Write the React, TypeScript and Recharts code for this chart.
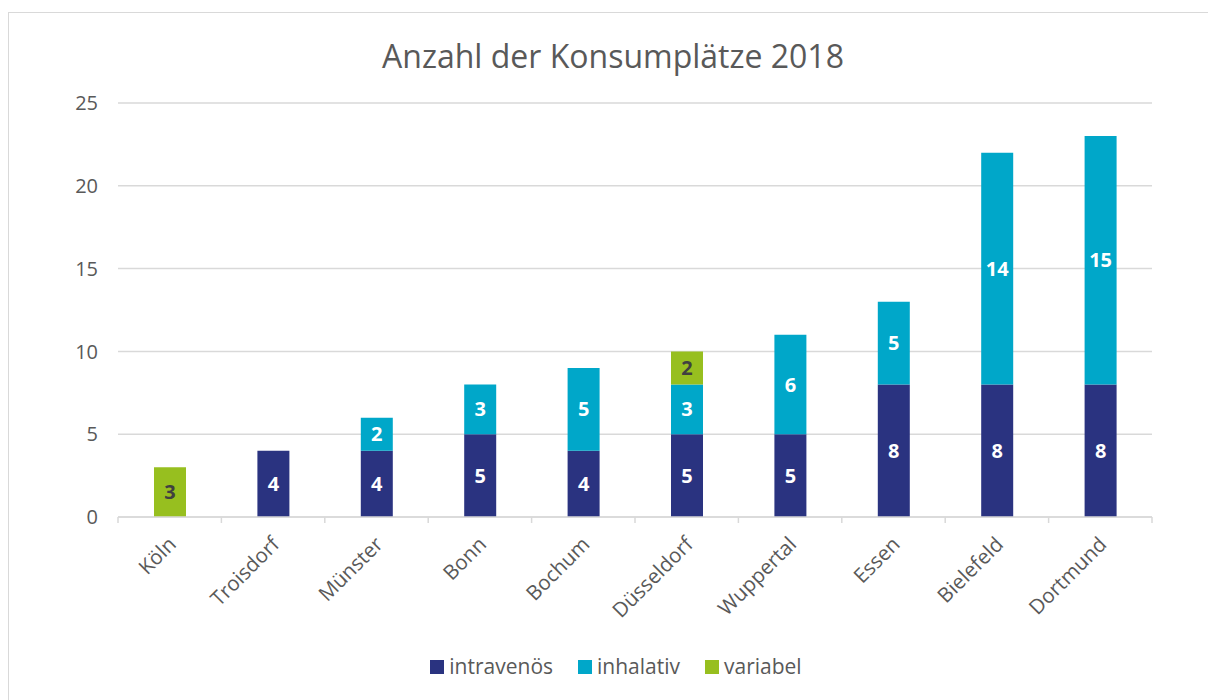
import React from "react";
import {
  BarChart,
  Bar,
  XAxis,
  YAxis,
  CartesianGrid,
  Legend,
  LabelList,
} from "recharts";

const categories = [
  "Köln",
  "Troisdorf",
  "Münster",
  "Bonn",
  "Bochum",
  "Düsseldorf",
  "Wuppertal",
  "Essen",
  "Bielefeld",
  "Dortmund",
];
const intravenoes = [0, 4, 4, 5, 4, 5, 5, 8, 8, 8];
const inhalativ = [0, 0, 2, 3, 5, 3, 6, 5, 14, 15];
const variabel = [3, 0, 0, 0, 0, 2, 0, 0, 0, 0];
const yTicks = [0, 5, 10, 15, 20, 25];

const data = categories.map((name, i) => ({
  name,
  intravenoes: intravenoes[i],
  inhalativ: inhalativ[i],
  variabel: variabel[i],
}));

const FONT = "'Open Sans', 'Noto Sans', sans-serif";
const GREY = "#595959";
const GRID = "#D9D9D9";
const NAVY = "#2A3380";
const CYAN = "#00A7C9";
const GREEN = "#97BF1F";

const CHART_W = 1199;
const CHART_H = 678;
const MARGIN = { top: 90, right: 56, left: 49, bottom: 0 };
const Y_W = 60;
const PLOT_W = CHART_W - MARGIN.left - MARGIN.right - Y_W;
const BAND = PLOT_W / categories.length;

const CityTick = (props: any) => {
  const { x, y, payload, index } = props;
  const tx = x + 2;
  const ty = y + 23;
  return (
    <g>
      <line x1={x - BAND / 2} x2={x - BAND / 2} y1={y} y2={y + 6} stroke={GRID} strokeWidth={1.5} />
      {index === categories.length - 1 && (
        <line x1={x + BAND / 2} x2={x + BAND / 2} y1={y} y2={y + 6} stroke={GRID} strokeWidth={1.5} />
      )}
      <text
        x={tx}
        y={ty}
        transform={`rotate(-45, ${tx}, ${ty})`}
        textAnchor="end"
        dominantBaseline="central"
        fill={GREY}
        fontSize={20.5}
        fontFamily={FONT}
      >
        {payload.value}
      </text>
    </g>
  );
};

const legendItems = [
  { label: "intravenös", color: NAVY },
  { label: "inhalativ", color: CYAN },
  { label: "variabel", color: GREEN },
];

const LegendContent = () => (
  <div
    style={{
      display: "flex",
      justifyContent: "center",
      gap: 25,
      paddingLeft: 22,
      fontFamily: FONT,
      fontSize: 21,
      lineHeight: "29px",
      color: GREY,
    }}
  >
    {legendItems.map((it) => (
      <div key={it.label} style={{ display: "flex", alignItems: "center", gap: 5 }}>
        <span style={{ width: 14, height: 14, background: it.color, display: "inline-block" }} />
        <span>{it.label}</span>
      </div>
    ))}
  </div>
);

const hideZero = (v: any) => (v ? v : "");

const labelStyle = { fontFamily: FONT, fontSize: 20, fontWeight: 700 };

export default function App() {
  return (
    <div
      style={{
        position: "fixed",
        top: 0,
        left: 0,
        width: 1208,
        height: 700,
        overflow: "hidden",
        background: "#fff",
      }}
    >
      <div
        style={{
          position: "absolute",
          top: 12,
          left: 8,
          width: CHART_W,
          height: 700,
          borderLeft: "1px solid #D9D9D9",
          borderTop: "1px solid #D9D9D9",
          background: "#fff",
          overflow: "hidden",
        }}
      >
        <div
          style={{
            position: "absolute",
            top: 20,
            left: 0,
            width: 1208,
            textAlign: "center",
            fontFamily: FONT,
            fontSize: 32,
            lineHeight: "46px",
            color: GREY,
          }}
        >
          Anzahl der Konsumplätze 2018
        </div>
        <BarChart width={CHART_W} height={CHART_H} data={data} margin={MARGIN}>
          <CartesianGrid vertical={false} stroke={GRID} strokeWidth={1.5} />
          <XAxis
            dataKey="name"
            interval={0}
            height={145}
            tickLine={false}
            tickSize={0}
            tickMargin={0}
            axisLine={{ stroke: GRID, strokeWidth: 1.5 }}
            tick={<CityTick />}
          />
          <YAxis
            width={Y_W}
            domain={[0, 25]}
            ticks={yTicks}
            axisLine={false}
            tickLine={false}
            tickMargin={14}
            tick={{ fill: GREY, fontSize: 20, fontFamily: FONT }}
          />
          <Legend verticalAlign="bottom" content={<LegendContent />} wrapperStyle={{ bottom: 10 }} />
          <Bar dataKey="intravenoes" name="intravenös" stackId="a" fill={NAVY} barSize={32} isAnimationActive={false}>
            <LabelList dataKey="intravenoes" position="center" fill="#fff" formatter={hideZero} style={labelStyle} />
          </Bar>
          <Bar dataKey="inhalativ" name="inhalativ" stackId="a" fill={CYAN} barSize={32} isAnimationActive={false}>
            <LabelList dataKey="inhalativ" position="center" fill="#fff" formatter={hideZero} style={labelStyle} />
          </Bar>
          <Bar dataKey="variabel" name="variabel" stackId="a" fill={GREEN} barSize={32} isAnimationActive={false}>
            <LabelList dataKey="variabel" position="center" fill="#404040" formatter={hideZero} style={labelStyle} />
          </Bar>
        </BarChart>
      </div>
    </div>
  );
}
